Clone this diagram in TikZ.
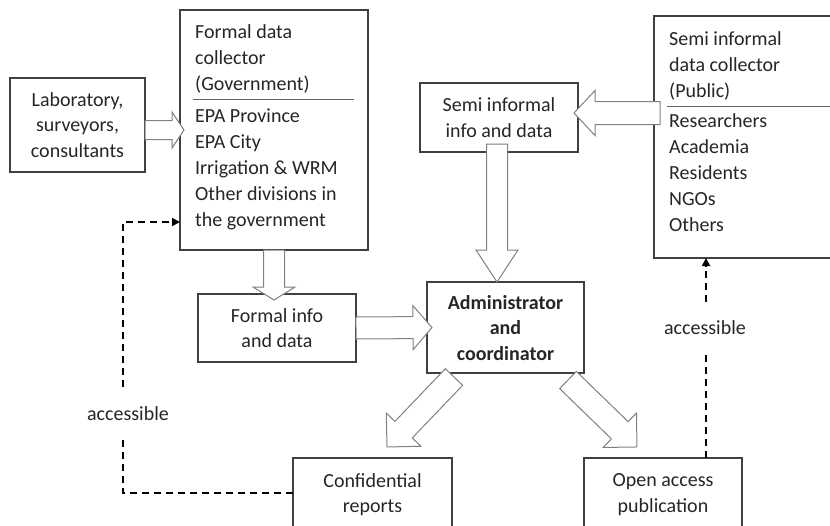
\documentclass[tikz,border=0pt]{standalone}
\usepackage{fontspec}
\setmainfont{Carlito}
\usetikzlibrary{calc,arrows.meta}
\tikzset{
  box/.style={draw=black!75,line width=1.1pt,fill=white,align=center,text depth=0pt,inner sep=0pt,outer sep=0pt},
  txt/.style={anchor=base west,inner sep=0pt},
  fat/.style={draw=black!50,line width=1pt,fill=white,line join=miter},
  dashline/.style={draw=black,line width=1.8pt,dash pattern=on 7pt off 5pt},
  lbl/.style={fill=white,inner xsep=3pt,inner ysep=17pt,text depth=0pt}
}
% #1 start, #2 tip, #3 half shaft, #4 half head, #5 head length
\newcommand\fatarrow[5]{%
  \draw[fat] let \p1=($(#2)-(#1)$), \n1={veclen(\x1,\y1)}, \n2={atan2(\y1,\x1)} in
    [shift={(#1)},rotate=\n2] (0,#3) -- ({\n1-#5},#3) -- ({\n1-#5},#4) -- (\n1,0)
    -- ({\n1-#5},-#4) -- ({\n1-#5},-#3) -- (0,-#3) -- cycle;}
\begin{document}
\begin{tikzpicture}[x=1pt,y=-1pt,>={Triangle[length=8pt,width=8pt]},
  font=\fontsize{20}{25.5}\selectfont,text=black!85]
\useasboundingbox (0,0) rectangle (830,525);
% boxes
\node[box,minimum width=135pt,minimum height=94pt] (lab) at (77.5,125) {Laboratory,\\surveyors,\\consultants};
\node[box,minimum width=188pt,minimum height=240pt] (gov) at (274,130) {};
\node[box,minimum width=158pt,minimum height=68pt] (finfo) at (277,328) {Formal info\\and data};
\node[box,minimum width=157pt,minimum height=91pt,font=\fontsize{20}{25.5}\selectfont\bfseries] (admin) at (505.5,327.5) {Administrator\\and\\coordinator};
\node[box,minimum width=158pt,minimum height=69pt] (semi) at (499,117.5) {Semi informal\\info and data};
\node[box,minimum width=181pt,minimum height=242pt] (pub) at (744.5,137) {};
\node[box,minimum width=159pt,minimum height=70pt] (conf) at (372.5,493) {Confidential\\reports};
\node[box,minimum width=158pt,minimum height=70pt] (open) at (663,493) {Open access\\publication};
% lists in the two collector boxes
\foreach \t [count=\i] in {Formal data,collector,(Government)}
  \node[txt] (gh\i) at (195,{12+26*\i}) {\t};
\foreach \t [count=\i] in {EPA Province,EPA City,Irrigation \& WRM,Other divisions in,the government}
  \node[txt] (gl\i) at (195,{96+26*\i}) {\t};
\foreach \t [count=\i] in {Semi informal,data collector,(Public)}
  \node[txt] (ph\i) at (669,{19+26*\i}) {\t};
\foreach \t [count=\i] in {Researchers,Academia,Residents,NGOs,Others}
  \node[txt] (pl\i) at (669,{101+26*\i}) {\t};
\draw[black!60,line width=1pt] ($(gov.north west)+(13,89)$) -- ($(gov.north east)+(-14,89)$);
\draw[black!60,line width=1pt] ($(pub.north west)+(13,90)$) -- ($(pub.north east)+(0,90)$);
% end points of the block arrows
\path
  ($(lab.east)+(0,5)$) coordinate (l1)
  ($(gov.west |- l1)+(4,0)$) coordinate (l2)
  (gov.south) coordinate (g1)
  ($(g1 |- finfo.north)+(0,6)$) coordinate (g2)
  (finfo.east) coordinate (f1)
  ($(admin.west)+(5,0)$) coordinate (f2)
  ($(pub.west)+(6,-24)$) coordinate (p1)
  ($(semi.east |- p1)+(-4,0)$) coordinate (p2)
  ($(semi.south)+(-2,-8)$) coordinate (s1)
  (s1 |- admin.north) coordinate (s2)
  ($(admin.south west)+(27,4)$) coordinate (a1)
  ($(conf.north)+(14.5,-11)$) coordinate (a2)
  ($(admin.south east)+(-16,7)$) coordinate (a3)
  ($(open.north)+(-26,-11)$) coordinate (a4)
  ;
\fatarrow{l1}{l2}{9.5}{18}{12}
\fatarrow{g1}{g2}{10.5}{21}{13}
\fatarrow{f1}{f2}{11}{22}{19}
\fatarrow{p1}{p2}{11.5}{22.5}{21}
\fatarrow{s1}{s2}{10.5}{21}{32}
\fatarrow{a1}{a2}{12}{24}{24}
\fatarrow{a3}{a4}{12}{24}{24}
% accessible links
\path ($(gov.west)+(-57,92)$) coordinate (lb)
      ($(open.north)+(43,0)$) coordinate (rb);
\draw[dashline,->] (conf.west) -| (lb) -- (gov.west |- lb);
\draw[dashline,->] (rb) -- (rb |- pub.south);
\node[lbl] (acc1) at (128,414) {accessible};
\node[lbl] (acc2) at (705,328) {accessible};
\end{tikzpicture}
\end{document}
